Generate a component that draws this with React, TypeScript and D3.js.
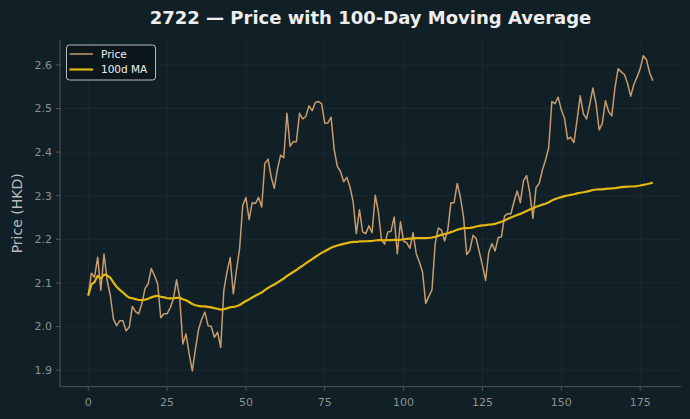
import React from 'react';
import * as d3 from 'd3';

const TITLE = '2722 — Price with 100-Day Moving Average';
const Y_LABEL = 'Price (HKD)';
const SERIES_NAMES = ['Price', '100d MA'];
const MA_WINDOW = 100;

const price: number[] = [
  2.071, 2.122, 2.113, 2.159, 2.083, 2.166, 2.106, 2.071, 2.017, 2.002,
  2.013, 2.013, 1.990, 1.998, 2.046, 2.034, 2.029, 2.052, 2.087, 2.098,
  2.133, 2.117, 2.098, 2.020, 2.029, 2.029, 2.043, 2.063, 2.107, 2.067,
  1.960, 1.983, 1.937, 1.898, 1.948, 1.994, 2.017, 2.033, 2.002, 2.000,
  1.975, 1.987, 1.952, 2.083, 2.125, 2.158, 2.075, 2.129, 2.179, 2.278,
  2.296, 2.245, 2.284, 2.282, 2.296, 2.274, 2.374, 2.384, 2.343, 2.317,
  2.361, 2.393, 2.387, 2.489, 2.413, 2.424, 2.424, 2.489, 2.476, 2.482,
  2.506, 2.495, 2.514, 2.516, 2.511, 2.466, 2.467, 2.480, 2.405, 2.367,
  2.355, 2.332, 2.342, 2.320, 2.286, 2.213, 2.268, 2.217, 2.213, 2.231,
  2.215, 2.301, 2.263, 2.198, 2.189, 2.217, 2.218, 2.251, 2.167, 2.240,
  2.196, 2.192, 2.179, 2.215, 2.167, 2.148, 2.125, 2.053, 2.069, 2.084,
  2.190, 2.226, 2.221, 2.196, 2.221, 2.284, 2.284, 2.328, 2.297, 2.251,
  2.165, 2.175, 2.209, 2.202, 2.171, 2.140, 2.106, 2.171, 2.190, 2.173,
  2.204, 2.205, 2.253, 2.259, 2.258, 2.286, 2.311, 2.284, 2.334, 2.346,
  2.307, 2.248, 2.319, 2.328, 2.359, 2.382, 2.410, 2.516, 2.511, 2.526,
  2.497, 2.478, 2.430, 2.434, 2.422, 2.474, 2.529, 2.488, 2.476, 2.509,
  2.547, 2.512, 2.451, 2.466, 2.518, 2.493, 2.483, 2.547, 2.591, 2.584,
  2.578, 2.558, 2.528, 2.555, 2.572, 2.591, 2.621, 2.612, 2.582, 2.564,
];

const xTicks = [0, 25, 50, 75, 100, 125, 150, 175];
const yTicks = [1.9, 2.0, 2.1, 2.2, 2.3, 2.4, 2.5, 2.6];

// rolling mean, min periods 1
const ma: number[] = price.map((_, i) => d3.mean(price.slice(Math.max(0, i - MA_WINDOW + 1), i + 1)) as number);

const W = 690;
const H = 419;
const L = 60, R = 681, T = 40, B = 386.7;

const BG = '#111f26';
const GRID = '#1e2c33';
const SPINE = '#52585b';
const TICKTXT = '#8c9194';
const PRICE_C = '#c89c6c';
const MA_C = '#e3b80f';

export default function App() {
  const n = price.length;
  const xPad = (n - 1) * 0.05;
  const x = d3.scaleLinear().domain([-xPad, n - 1 + xPad]).range([L, R]);
  const all = price.concat(ma);
  const [mn, mx] = d3.extent(all) as [number, number];
  const yPad = (mx - mn) * 0.05;
  const y = d3.scaleLinear().domain([mn - yPad, mx + yPad]).range([B, T]);

  const line = d3.line<number>().x((_, i) => x(i)).y((d) => y(d));

  return (
    <svg width={W} height={H} style={{ position: 'absolute', left: 0, top: 0 }} fontFamily="DejaVu Sans, sans-serif">
      <rect x={0} y={0} width={W} height={H} fill={BG} />
      {/* grid */}
      {xTicks.map((t) => (
        <line key={'gx' + t} x1={x(t)} x2={x(t)} y1={T} y2={B} stroke={GRID} strokeWidth={0.8} />
      ))}
      {yTicks.map((t) => (
        <line key={'gy' + t} x1={L} x2={R} y1={y(t)} y2={y(t)} stroke={GRID} strokeWidth={0.8} />
      ))}
      {/* lines */}
      <path d={line(price) || ''} fill="none" stroke={PRICE_C} strokeWidth={1.5} strokeLinejoin="round" />
      <path d={line(ma) || ''} fill="none" stroke={MA_C} strokeWidth={2.2} strokeLinejoin="round" />
      {/* spines */}
      <line x1={L} x2={L} y1={T} y2={B} stroke={SPINE} strokeWidth={1} />
      <line x1={L} x2={R} y1={B} y2={B} stroke={SPINE} strokeWidth={1} />
      {/* ticks */}
      {xTicks.map((t) => (
        <g key={'xt' + t}>
          <line x1={x(t)} x2={x(t)} y1={B} y2={B + 4} stroke={SPINE} strokeWidth={1} />
          <text x={x(t)} y={B + 19} textAnchor="middle" fontSize={11} fill={TICKTXT}>{t}</text>
        </g>
      ))}
      {yTicks.map((t) => (
        <g key={'yt' + t}>
          <line x1={L - 4} x2={L} y1={y(t)} y2={y(t)} stroke={SPINE} strokeWidth={1} />
          <text x={L - 8} y={y(t)} dy="0.35em" textAnchor="end" fontSize={11} fill={TICKTXT}>{t.toFixed(1)}</text>
        </g>
      ))}
      {/* axis label */}
      <text transform={`translate(22,${(T + B) / 2}) rotate(-90)`} textAnchor="middle" fontSize={14} fill="#b8bcbf">{Y_LABEL}</text>
      {/* title */}
      <text x={(L + R) / 2} y={24} textAnchor="middle" fontSize={18} fontWeight="bold" fill="#eeeeee">{TITLE}</text>
      {/* legend */}
      <rect x={66.5} y={45} width={89} height={35} rx={3} fill="#0c171c" stroke="#cfcfcf" strokeWidth={0.9} />
      <line x1={69.5} x2={93} y1={54} y2={54} stroke={PRICE_C} strokeWidth={1.5} />
      <text x={101} y={54} dy="0.35em" fontSize={10.5} fill="#eeeeee">{SERIES_NAMES[0]}</text>
      <line x1={69.5} x2={93} y1={69.5} y2={69.5} stroke={MA_C} strokeWidth={2.2} />
      <text x={101} y={69.5} dy="0.35em" fontSize={10.5} fill="#eeeeee">{SERIES_NAMES[1]}</text>
    </svg>
  );
}
